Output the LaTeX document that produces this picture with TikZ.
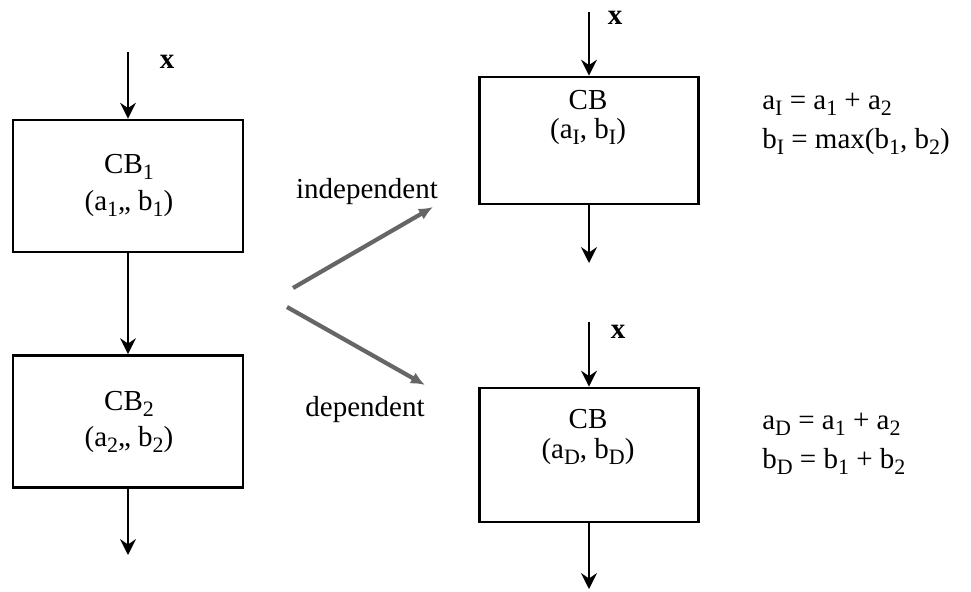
\documentclass[tikz,border=0pt]{standalone}
\usepackage{fontspec}
\setmainfont{Liberation Serif}
\usetikzlibrary{arrows.meta,positioning}
% lowered index, a bit larger than \textsubscript
\newcommand{\sbx}[1]{\raisebox{-0.45ex}{\fontsize{12.5}{13}\selectfont #1}}

\begin{document}
\begin{tikzpicture}[font=\fontsize{16.5}{19}\selectfont,
  cb node/.style={rectangle,draw,line width=1.6pt,minimum width=4.6cm,minimum height=2.64cm},
  cb text/.style={align=center,inner sep=0pt},
  flow/.style={-{Stealth[length=9pt,width=9pt,inset=3pt]},line width=1.5pt},
  choice/.style={-{Latex[length=8pt,width=7pt]},line width=2.4pt,draw=black!60}]
\useasboundingbox (0,0) rectangle (19.42,-11.82);
% blocks in series (left) and the merged block (right)
\node[cb node] (cb1) at (2.56,-3.72) {};
\node[cb node] (cb2) at (2.56,-8.43) {};
\node[cb node,minimum width=4.38cm,minimum height=2.54cm] (cbI) at (11.78,-2.81) {};
\node[cb node,minimum width=4.38cm,minimum height=2.68cm] (cbD) at (11.78,-9.10) {};
\begin{scope}[every node/.style={cb text}]
\node (t1) at (2.58,-3.71) {CB\sbx{1}\\[2pt](a\sbx{1},, b\sbx{1})};
\node (t2) at (2.58,-8.44) {CB\sbx{2}\\[2pt](a\sbx{2},, b\sbx{2})};
\node (tI) at (11.76,-2.35) {CB\\[-2pt](a\sbx{I}, b\sbx{I})};
\node (tD) at (11.76,-8.74) {CB\\[-2pt](a\sbx{D}, b\sbx{D})};
\end{scope}
% formulas
\begin{scope}[every node/.style={anchor=west,align=left,inner sep=0pt}]
\node (eqI) at (15.24,-2.48) {a\sbx{I} = a\sbx{1} + a\sbx{2}\\[3pt]b\sbx{I} = max(b\sbx{1}, b\sbx{2})};
\node (eqD) at (15.24,-8.88) {a\sbx{D} = a\sbx{1} + a\sbx{2}\\[3pt]b\sbx{D} = b\sbx{1} + b\sbx{2}};
\end{scope}
% inputs
\node (xL) at (3.34,-1.24) {\textbf{x}};
\node (xI) at (12.30,-0.36) {\textbf{x}};
\node (xD) at (12.36,-6.64) {\textbf{x}};
\coordinate (inL) at (2.56,-1.04);
\coordinate (outL) at (2.56,-11.10);
\coordinate (inI) at (11.78,-0.24);
\coordinate (outI) at (11.78,-5.26);
\coordinate (inD) at (11.78,-6.44);
\coordinate (outD) at (11.78,-11.78);
\draw[flow] (inL) -- (cb1);
\draw[flow] (cb1) -- (cb2);
\draw[flow] (cb2) -- (outL);
\draw[flow] (inI) -- (cbI);
\draw[flow] (cbI) -- (outI);
\draw[flow] (inD) -- (cbD);
\draw[flow] (cbD) -- (outD);
% the two ways of combining
\coordinate (fromI) at (5.86,-5.76);
\coordinate (toI) at (8.66,-4.14);
\coordinate (fromD) at (5.74,-6.14);
\coordinate (toD) at (8.50,-7.70);
\draw[choice] (fromI) -- (toI);
\draw[choice] (fromD) -- (toD);
\node (indep) at (7.34,-3.84) {independent};
\node (dep) at (7.30,-8.20) {dependent};
\end{tikzpicture}
\end{document}
